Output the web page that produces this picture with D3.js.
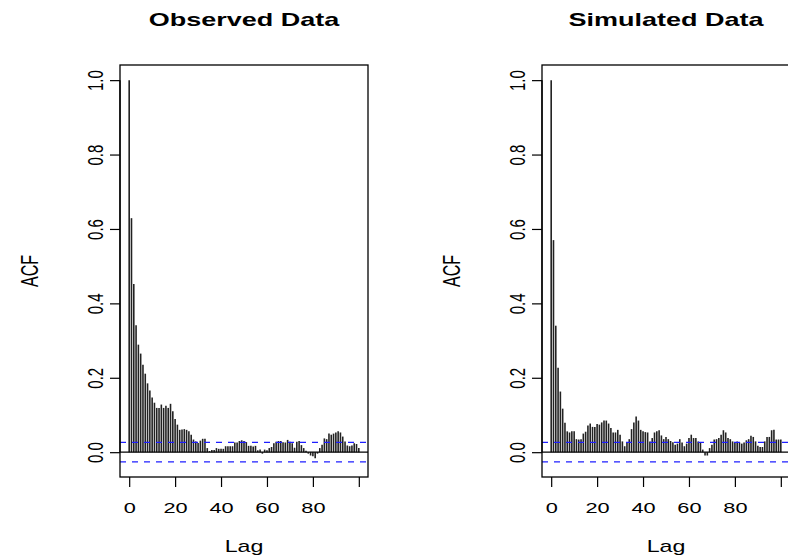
<!DOCTYPE html>
<html>
<head>
<meta charset="utf-8">
<script src="https://cdn.jsdelivr.net/npm/d3@7"></script>
<style>
  body { margin: 0; background: #fff; }
  svg { display: block; font-family: "Liberation Sans", Arial, Helvetica, sans-serif; }
</style>
</head>
<body>
<svg id="chart" width="788" height="559"></svg>
<script>
// acf values, lag 0..100
const observed = [1.0, 0.629, 0.452, 0.341, 0.289, 0.265, 0.235, 0.211, 0.185, 0.166,
  0.147, 0.133, 0.119, 0.119, 0.128, 0.119, 0.125, 0.119, 0.130, 0.110,
  0.089, 0.074, 0.060, 0.061, 0.062, 0.060, 0.056, 0.047, 0.034, 0.029,
  0.025, 0.031, 0.036, 0.036, 0.011, 0.003, 0.006, 0.006, 0.011, 0.009,
  0.009, 0.009, 0.016, 0.016, 0.016, 0.016, 0.026, 0.026, 0.030, 0.032,
  0.030, 0.027, 0.017, 0.017, 0.015, 0.017, 0.005, 0.007, -0.004, 0.007,
  0.005, 0.011, 0.014, 0.024, 0.028, 0.030, 0.030, 0.027, 0.026, 0.033,
  0.028, 0.024, 0.012, 0.028, 0.030, 0.019, 0.011, 0.004, -0.004, -0.009,
  -0.011, -0.016, -0.004, 0.011, 0.020, 0.037, 0.035, 0.050, 0.047, 0.050,
  0.053, 0.056, 0.053, 0.042, 0.029, 0.018, 0.016, 0.018, 0.024, 0.022,
  0.011];
const simulated = [1.0, 0.570, 0.340, 0.227, 0.163, 0.117, 0.079, 0.056, 0.053, 0.056,
  0.056, 0.035, 0.034, 0.035, 0.050, 0.055, 0.072, 0.077, 0.068, 0.068,
  0.076, 0.074, 0.080, 0.085, 0.085, 0.077, 0.065, 0.053, 0.053, 0.060,
  0.047, 0.029, 0.016, 0.025, 0.035, 0.062, 0.080, 0.096, 0.085, 0.060,
  0.056, 0.054, 0.053, 0.029, 0.038, 0.053, 0.056, 0.059, 0.045, 0.035,
  0.041, 0.035, 0.030, 0.027, 0.020, 0.023, 0.035, 0.026, 0.016, 0.023,
  0.038, 0.047, 0.038, 0.038, 0.029, 0.025, 0.007, -0.009, -0.009, 0.011,
  0.020, 0.034, 0.035, 0.038, 0.047, 0.059, 0.053, 0.038, 0.035, 0.029,
  0.026, 0.029, 0.026, 0.023, 0.026, 0.032, 0.035, 0.044, 0.041, 0.029,
  0.017, 0.014, 0.014, 0.029, 0.041, 0.041, 0.059, 0.060, 0.034, 0.034,
  0.034];
const titles = ["Observed Data", "Simulated Data"];
const clim = 0.0263;
const xTicks = [0, 20, 40, 60, 80, 100];
const xTickLabels = ["0", "20", "40", "60", "80", ""];
const yTicks = [0, 0.2, 0.4, 0.6, 0.8, 1.0];

const svg = d3.select("#chart");
const SX = 1.45; // the picture is stretched sideways

const x = d3.scaleLinear().domain([-4, 104]).range([120, 368]);
const y = d3.scaleLinear().domain([-0.0667, 1.0407]).range([477, 65]);

function panel(g, values, title) {
  // bars
  g.selectAll("line.bar").data(values).join("line")
    .attr("class", "bar")
    .attr("x1", (d, i) => x(i)).attr("x2", (d, i) => x(i))
    .attr("y1", y(0)).attr("y2", d => y(d))
    .attr("stroke", "#222").attr("stroke-width", 1.6);

  g.append("line")
    .attr("x1", 120).attr("x2", 368).attr("y1", y(0)).attr("y2", y(0))
    .attr("stroke", "#000").attr("stroke-width", 1.2);

  for (let c of [clim, -clim]) {
    g.append("line")
      .attr("x1", 120).attr("x2", 368).attr("y1", y(c)).attr("y2", y(c))
      .attr("stroke", "#1f1fff").attr("stroke-width", 1.2)
      .attr("stroke-dasharray", "6,6");
  }

  g.append("rect")
    .attr("x", 120).attr("y", 65).attr("width", 248).attr("height", 412)
    .attr("fill", "none").attr("stroke", "#000").attr("stroke-width", 1.3);

  let xa = g.append("g").attr("transform", "translate(0,477)")
    .call(d3.axisBottom(x).tickValues(xTicks).tickFormat((d, i) => xTickLabels[i])
      .tickSize(10).tickSizeOuter(0));
  xa.select(".domain").remove();
  xa.selectAll("line").attr("stroke-width", 1.2);
  xa.selectAll("text")
    .attr("y", null).attr("dy", null)
    .attr("transform", `translate(0,36) scale(${SX},1)`)
    .attr("font-size", 15).attr("fill", "#000");

  let ya = g.append("g").attr("transform", "translate(120,0)")
    .call(d3.axisLeft(y).tickValues(yTicks).tickFormat(d3.format(".1f"))
      .tickSize(10).tickSizeOuter(0));
  ya.select(".domain").attr("d", `M0,${y(0)}V${y(1)}`).attr("stroke-width", 1.3);
  ya.selectAll("line").attr("stroke-width", 1.2);
  ya.selectAll("text")
    .attr("x", null).attr("dy", null)
    .attr("text-anchor", "middle")
    .attr("transform", `translate(-17,0) scale(${SX},1) rotate(-90)`)
    .attr("font-size", 15).attr("fill", "#000");

  g.append("text")
    .attr("transform", `translate(244,26) scale(1.5,1)`)
    .attr("text-anchor", "middle").attr("font-weight", "bold").attr("font-size", 18)
    .text(title);

  g.append("text")
    .attr("transform", `translate(244,552) scale(${SX},1)`)
    .attr("text-anchor", "middle").attr("font-size", 16)
    .text("Lag");

  g.append("text")
    .attr("transform", `translate(38,271) scale(${SX},1) rotate(-90)`)
    .attr("text-anchor", "middle").attr("font-size", 16)
    .text("ACF");
}

panel(svg.append("g"), observed, titles[0]);
panel(svg.append("g").attr("transform", "translate(422,0)"), simulated, titles[1]);
</script>
</body>
</html>
